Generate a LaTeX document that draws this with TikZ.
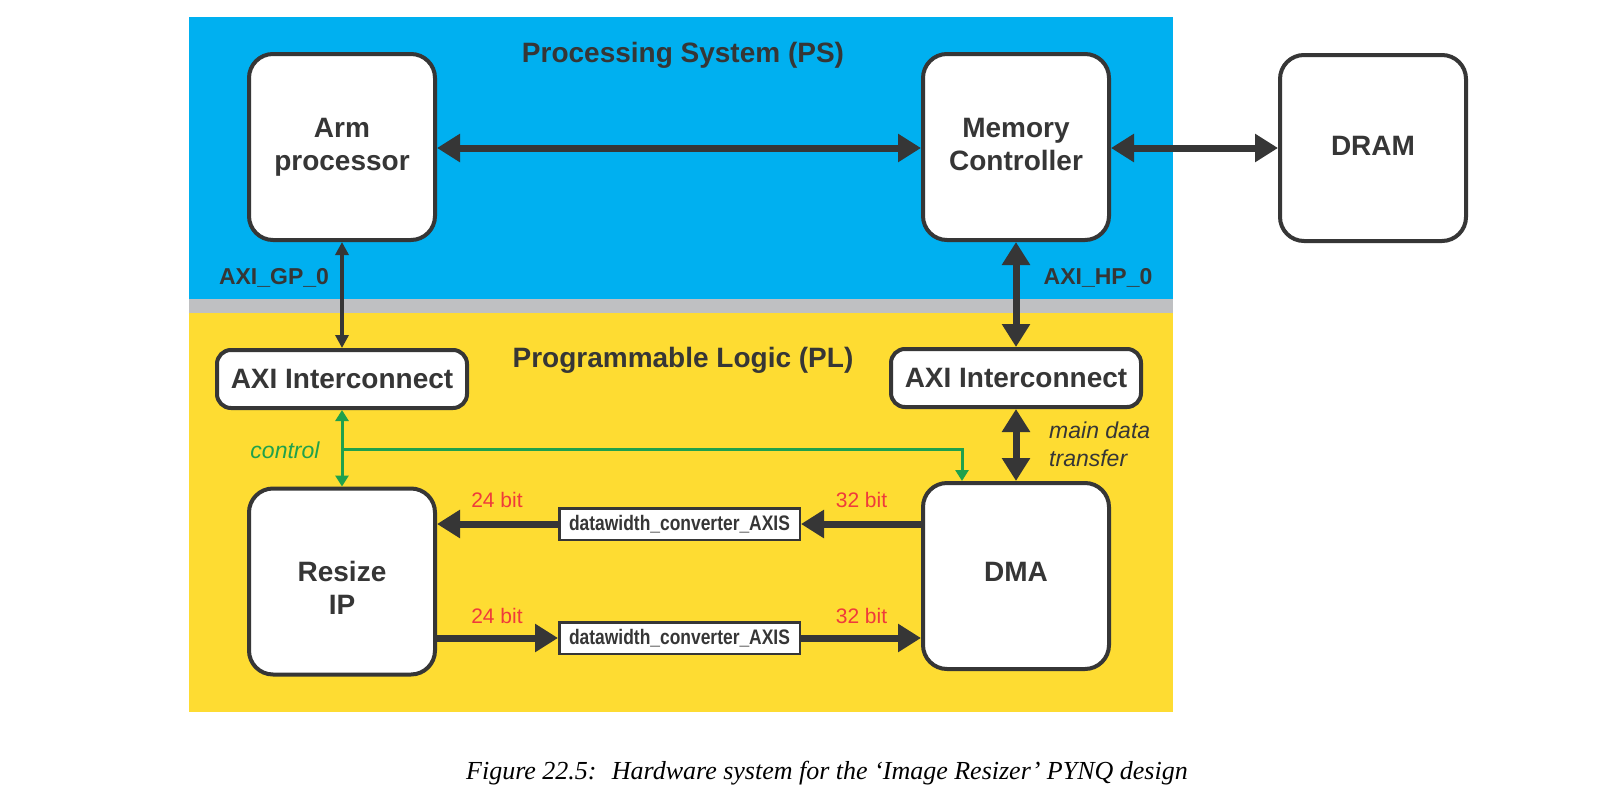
\documentclass[tikz,border=0pt]{standalone}
\usepackage{fontspec}
\usepackage{graphicx}
\setsansfont{Liberation Sans}
\newfontfamily\capfont{Liberation Serif}
\usetikzlibrary{arrows.meta,calc}
\definecolor{psblue}{HTML}{00B0F0}
\definecolor{plyellow}{HTML}{FEDC32}
\definecolor{band}{HTML}{BFC0C2}
\definecolor{ink}{HTML}{363636}
\definecolor{ctrl}{HTML}{1FA14C}
\definecolor{bitred}{HTML}{EF3B3B}
\begin{document}
\begin{tikzpicture}[x=1pt,y=-1pt,
  bigbox/.style={draw=ink, line width=4pt, rounded corners=24pt, fill=white,
    minimum width=186pt, minimum height=186pt, inner sep=0pt, align=center,
    text=ink, font=\sffamily\bfseries\fontsize{28}{33}\selectfont},
  axibox/.style={draw=ink, line width=4pt, rounded corners=14pt, fill=white,
    minimum width=250pt, minimum height=58pt, inner sep=0pt,
    text=ink, font=\sffamily\bfseries\fontsize{28}{33}\selectfont},
  convbox/.style={draw=ink, line width=2.5pt, fill=white,
    minimum width=240.5pt, minimum height=31.5pt, inner sep=0pt,
    text=ink, font=\sffamily\bfseries\fontsize{21}{24}\selectfont},
  datalink/.style={draw=ink, line width=7pt, >={Triangle[length=23pt,width=27pt]}},
  gplink/.style={draw=ink, line width=3.5pt, >={Triangle[length=13pt,width=13pt]}},
  ctrllink/.style={draw=ctrl, line width=3pt, >={Triangle[length=11pt,width=13pt]}},
  areatitle/.style={text=ink, font=\sffamily\bfseries\fontsize{28}{33}\selectfont, inner sep=0pt, anchor=base},
  portlbl/.style={text=ink, font=\sffamily\bfseries\fontsize{23}{27}\selectfont, inner sep=0pt, anchor=base},
  itlbl/.style={font=\sffamily\itshape\fontsize{23}{27}\selectfont, inner sep=0pt},
  bitlbl/.style={text=bitred, font=\sffamily\fontsize{21}{24}\selectfont, inner sep=0pt, anchor=base},
  captionlbl/.style={text=black, font=\capfont\itshape\fontsize{26}{30}\selectfont, inner sep=0pt, anchor=base}
]
\useasboundingbox (0,0) rectangle (1603,798);
\fill[white] (0,0) rectangle (1603,798);
\fill[psblue] (189,17) rectangle (1173,299);
\fill[band] (189,299) rectangle (1173,313);
\fill[plyellow] (189,313) rectangle (1173,712);

\node[areatitle] (pstitle) at (683,62) {Processing System (PS)};
\node[areatitle] (pltitle) at (683,367) {Programmable Logic (PL)};

\node[bigbox] (arm) at (342,147) {Arm\\processor};
\node[bigbox] (mc) at (1016,147) {Memory\\Controller\vphantom{p}};
\node[bigbox] (dram) at (1373,148) {DRAM\rule[-5pt]{0pt}{5pt}};
\node[bigbox] (resize) at (342,581.5) {\rule{0pt}{33pt}Resize\\IP};
\node[bigbox] (dma) at (1016,576) {DMA\rule[-8pt]{0pt}{8pt}};

\node[axibox] (axil) at (342,379) {AXI Interconnect};
\node[axibox] (axir) at (1016,378) {AXI Interconnect};

\node[convbox] (conv1) at (679.5,524) {\scalebox{0.83}[1]{datawidth\_converter\_AXIS}};
\node[convbox] (conv2) at (679.5,638) {\scalebox{0.83}[1]{datawidth\_converter\_AXIS}};

% PS links
\draw[datalink,<->] (arm.east |- 0,148) -- (mc.west |- 0,148);
\draw[datalink,<->] (mc.east |- 0,148) -- (dram.west |- 0,148);
\draw[gplink,<->] (arm.south) -- (axil.north);
\draw[datalink,<->] (mc.south) -- (axir.north);
\draw[datalink,<->] (axir.south) -- (dma.north);

\node[portlbl] (gp) at (274,284) {AXI\_GP\_0};
\node[portlbl] (hp) at (1098,284) {AXI\_HP\_0};

% control
\coordinate (cj) at (342,449);
\coordinate (gx) at (962,449);
\draw[ctrllink,<->] (axil.south) -- (resize.north);
\draw[ctrllink,->] (cj) -- (gx) -- (gx |- dma.north);
\node[itlbl, text=ctrl, anchor=base] (ctl) at (285,458) {control};
\node[itlbl, text=ink, anchor=base west] (md1) at (1049,438) {main data};
\node[itlbl, text=ink, anchor=base west] (md2) at (1049,466) {transfer};

% data streams
\draw[datalink,->] (conv1.east -| dma.west) -- (conv1.east);
\draw[datalink,->] (conv1.west) -- (conv1.west -| resize.east);
\draw[datalink,->] (conv2.west -| resize.east) -- (conv2.west);
\draw[datalink,->] (conv2.east) -- (conv2.east -| dma.west);

\node[bitlbl] (b1) at (497,507) {24 bit};
\node[bitlbl] (b2) at (861.5,507) {32 bit};
\node[bitlbl] (b3) at (497,623) {24 bit};
\node[bitlbl] (b4) at (861.5,623) {32 bit};

\node[captionlbl] (cap) at (827,779) {Figure 22.5:~ Hardware system for the ‘Image Resizer’ PYNQ design};
\end{tikzpicture}
\end{document}
